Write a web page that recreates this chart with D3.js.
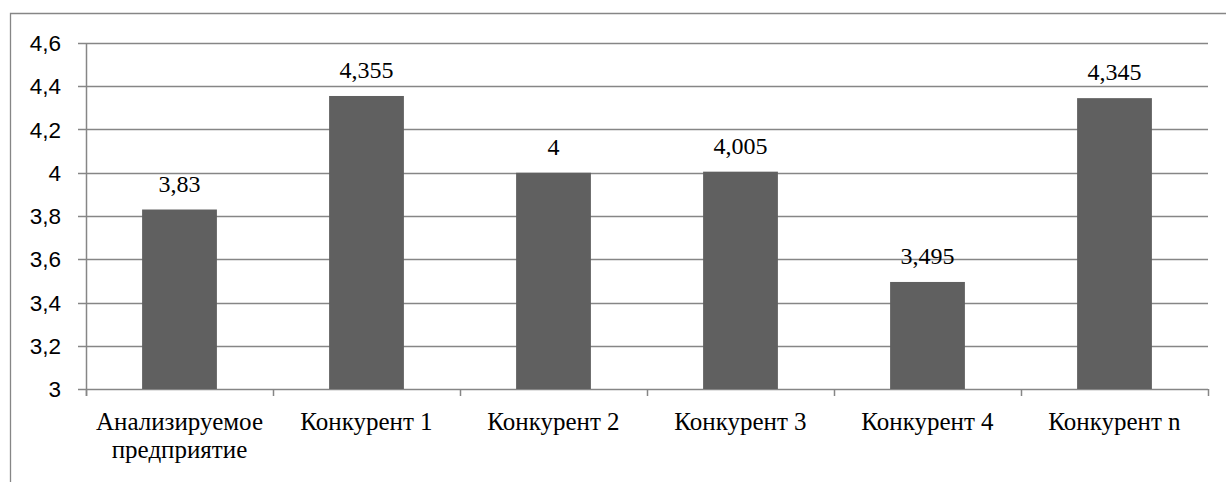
<!DOCTYPE html>
<html><head><meta charset="utf-8">
<script src="https://cdn.jsdelivr.net/npm/d3@7"></script>
<style>body{margin:0;background:#fff}svg{display:block}</style>
</head><body>
<script>
const categories = [["Анализируемое","предприятие"],["Конкурент 1"],["Конкурент 2"],["Конкурент 3"],["Конкурент 4"],["Конкурент n"]];
const values = [3.83, 4.355, 4, 4.005, 3.495, 4.345];
const valueLabels = ["3,83","4,355","4","4,005","3,495","4,345"];
const yTicks = [3, 3.2, 3.4, 3.6, 3.8, 4, 4.2, 4.4, 4.6];

(function(){
const W = 1226, H = 482;
const svg = d3.select("body").append("svg").attr("width", W).attr("height", H);
const grid = "#868686";
const SERIF = "'Liberation Serif', Tinos, 'Noto Serif', 'DejaVu Serif', 'Times New Roman', serif";

svg.append("path").attr("d", `M10.5,482 V13.5 H${W}`).attr("fill","none").attr("stroke", grid).attr("stroke-width",1.3);

const pL = 86, pR = 1208, pT = 43, pB = 389;
const x = d3.scaleBand().domain(d3.range(categories.length)).range([pL, pR]).padding(0);
const y = d3.scaleLinear().domain([3, 4.6]).range([pB, pT]);

svg.append("g").selectAll("line").data(yTicks).join("line")
  .attr("x1", pL - 8).attr("x2", pR)
  .attr("y1", d => Math.round(y(d)) + 0.5).attr("y2", d => Math.round(y(d)) + 0.5)
  .attr("stroke", grid).attr("stroke-width", 1.5);

svg.append("g").selectAll("text").data(yTicks).join("text")
  .style("font-family", "'Liberation Sans', Arial, sans-serif")
  .style("font-size", "22.5px")
  .attr("x", 61).attr("y", d => y(d)).attr("dy", "0.36em")
  .attr("text-anchor", "end").attr("fill", "#000")
  .text(d => String(d).replace(".", ","));

svg.append("line").attr("x1", pL + 0.5).attr("x2", pL + 0.5).attr("y1", pT).attr("y2", pB + 7)
  .attr("stroke", grid).attr("stroke-width", 1.5);

const xt = d3.range(categories.length + 1).map(i => i < categories.length ? x(i) : pR);
svg.append("g").selectAll("line").data(xt).join("line")
  .attr("x1", d => Math.round(d) + 0.5).attr("x2", d => Math.round(d) + 0.5)
  .attr("y1", pB).attr("y2", pB + 7)
  .attr("stroke", grid).attr("stroke-width", 1.5);

const bw = x.bandwidth() * 0.4;
svg.append("g").selectAll("rect").data(values).join("rect")
  .attr("x", (d, i) => x(i) + (x.bandwidth() - bw) / 2)
  .attr("width", bw)
  .attr("y", d => y(d))
  .attr("height", d => y(3) - y(d))
  .attr("fill", "#606060");

svg.append("g").selectAll("text").data(values).join("text")
  .style("font-family", SERIF).style("font-size", "24px")
  .attr("x", (d, i) => x(i) + x.bandwidth() / 2)
  .attr("y", d => y(d) - 18)
  .attr("text-anchor", "middle").attr("fill", "#000")
  .text((d, i) => valueLabels[i]);

const cg = svg.append("g").selectAll("text").data(categories).join("text")
  .style("font-family", SERIF).style("font-size", "25px")
  .attr("x", (d, i) => x(i) + x.bandwidth() / 2)
  .attr("y", 430)
  .attr("text-anchor", "middle").attr("fill", "#000");
cg.each(function(d) {
  const t = d3.select(this);
  d.forEach((line, j) => t.append("tspan").attr("x", t.attr("x")).attr("dy", j === 0 ? 0 : 28).text(line));
});
})();
</script>
</body></html>
